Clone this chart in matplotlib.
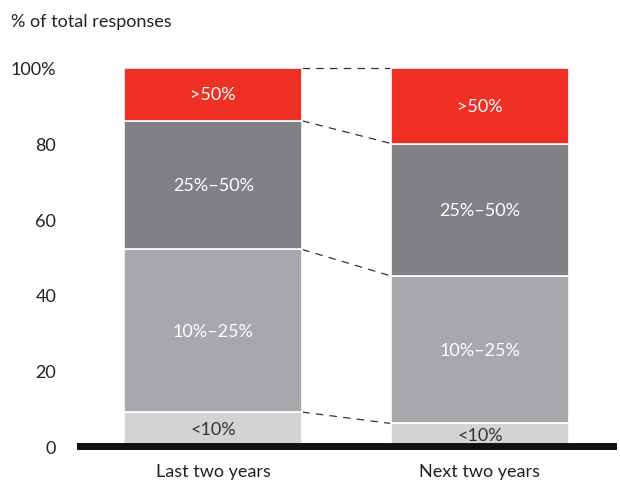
import numpy as np
import matplotlib
matplotlib.use("Agg")
import matplotlib.pyplot as plt

plt.rcParams['font.family'] = ['Lato', 'DejaVu Sans']

periodos = ["Last two years", "Next two years"]
segmentos = ["<10%", "10%\u201325%", "25%\u201350%", ">50%"]
valores = {
    "<10%": [9, 6],
    "10%\u201325%": [43, 39],
    "25%\u201350%": [34, 35],
    ">50%": [14, 20],
}
colores = ["#d2d3d5", "#a7a8ab", "#808184", "#ee3124"]
color_texto = ["#333333", "white", "white", "white"]

fig = plt.figure(figsize=(6.2, 4.85), dpi=100)
ax = fig.add_axes([0.129, 0.078, 0.860, 0.780])

x = np.arange(len(periodos))
ancho = 0.667
base = np.zeros(len(periodos))
for seg, col, ct in zip(segmentos, colores, color_texto):
    v = np.array(valores[seg], dtype=float)
    ax.bar(x, v, ancho, bottom=base, color=col, edgecolor="white", linewidth=1.2, zorder=2)
    for xi, b, h in zip(x, base, v):
        ax.text(xi, b + h / 2, seg, ha="center", va="center", color=ct, fontsize=13, zorder=3)
    base = base + v

# lineas discontinuas entre las fronteras de las barras
acum = np.cumsum([valores[s] for s in segmentos], axis=0)
fronteras = np.vstack([np.zeros(len(periodos)), acum])
for f in fronteras[1:]:
    ax.plot([x[0] + ancho / 2, x[1] - ancho / 2], [f[0], f[1]], color="#333333",
            linestyle=(0, (6, 5)), linewidth=0.9, zorder=1, clip_on=False)

ax.axhline(0, color="#111111", linewidth=5, zorder=4, clip_on=False)

ax.set_xlim(-0.5, 1.5)
ax.set_ylim(0, 100)
ax.set_yticks([0, 20, 40, 60, 80, 100])
ax.set_yticklabels(["0", "20", "40", "60", "80", "100%"])
ax.set_xticks(x)
ax.set_xticklabels(periodos)
ax.tick_params(axis="both", length=0, labelsize=13, colors="#222222")
ax.tick_params(axis="y", pad=17)
ax.tick_params(axis="x", pad=12)
for s in ax.spines.values():
    s.set_visible(False)

fig.text(0.018, 0.955, "% of total responses", fontsize=13, color="#222222", va="center")

plt.savefig("out.png", dpi=100)
